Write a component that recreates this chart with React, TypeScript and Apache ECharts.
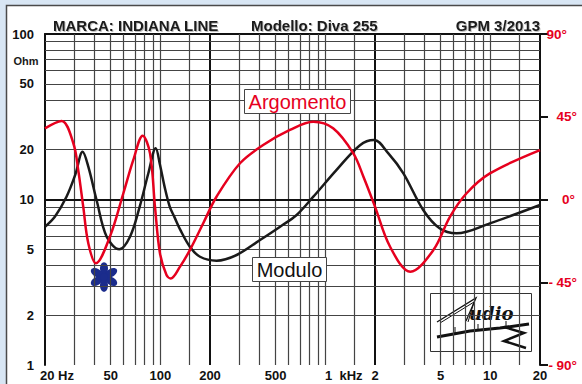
import React, { useEffect, useRef } from 'react';
import * as echarts from 'echarts';

const FONT = '"Liberation Sans", Arial, Helvetica, sans-serif';

// Modulo (impedance, Ohm)
const modFreq = [20, 23, 27, 30.5, 33.8, 36.6, 41.1, 47.3, 56.4, 65.5, 75, 84.6, 93.8, 99.5, 106, 114, 122, 131.7, 151, 174, 219, 290, 402, 532, 670, 846, 1170, 1622, 1972, 2410, 2972, 3920, 4924, 6240, 9940, 20000];
const modOhm = [6.85, 7.9, 10.4, 14.1, 19.4, 15.8, 9.9, 5.96, 5.0, 5.96, 9.05, 14.4, 20.4, 16.2, 12.0, 9.05, 7.8, 6.6, 5.19, 4.51, 4.27, 4.62, 5.69, 6.85, 8.06, 10.4, 15.1, 21.3, 22.9, 19.0, 14.4, 8.64, 6.7, 6.25, 7.18, 9.26];

// Argomento (phase, degrees)
const phaseFreq = [20, 25.2, 29.7, 31.8, 34.1, 36.6, 40.7, 49.5, 59.7, 68.6, 78.2, 86.6, 92.8, 99.5, 109, 115.6, 131.7, 151, 182, 219, 304, 420, 610, 846, 1115, 1478, 1702, 2000, 2468, 3274, 4516, 5690, 7180, 9940, 20000];
const phaseDeg = [38.7, 42.7, 30.6, 16, -3.9, -23.8, -34.7, -20.2, 3.4, 21.5, 34.7, 25.1, -3.9, -29.3, -41, -42.9, -36.5, -27.5, -12.9, 1.5, 19.7, 29.6, 37.8, 42.3, 38.7, 25.1, 12.4, -3.9, -25.7, -39.3, -27.5, -9.4, 3.4, 14.2, 26.9];

// Tick labels
const xTickValues = [20, 50, 100, 200, 500, 1000, 2000, 5000, 10000, 20000];
const yTickValues = [1, 2, 5, 10, 20, 50, 100];
const phaseLabels: Record<string, string> = { '90': '{a|90°}', '45': '{c|45°}', '0': '{b|0°}', '-45': '{d|-}{c|45°}', '-90': '{d|-}{c|90°}' };

// Grid lines
const xGridValues = [30, 40, 50, 60, 70, 80, 90, 100, 150, 200, 300, 400, 500, 600, 700, 800, 900, 1000, 1500, 2000, 3000, 4000, 5000, 6000, 7000, 8000, 9000, 10000, 15000];
const yGridValues = [2, 3, 4, 5, 6, 7, 8, 9, 10, 20, 30, 40, 50, 60, 70, 80, 90];
const xThick = [200, 2000];
const yThick = [10];

const RED = '#e6001e';
const BLACK = '#1a1a1a';

export default function App() {
  const ref = useRef<HTMLDivElement>(null);
  useEffect(() => {
    const chart = echarts.init(ref.current!, null, { renderer: 'svg' });
    const thin = { color: '#444', width: 1.2, type: 'solid' };
    const thick = { color: '#111', width: 2, type: 'solid' };
    const gridLines: any[] = [
      ...xGridValues.map((v) => ({ xAxis: v, lineStyle: xThick.includes(v) ? thick : thin })),
      ...yGridValues.map((v) => ({ yAxis: v, lineStyle: yThick.includes(v) ? thick : thin })),
    ];
    const petals = [0, 1, 2, 3, 4, 5].map((k) => ({
      type: 'ellipse',
      rotation: (k * Math.PI) / 3,
      shape: { cx: 0, cy: -8.5, rx: 4, ry: 6.3 },
      style: { fill: '#1b2c8c' },
    }));
    const redRich = (pad: number[]) => ({ padding: pad, color: RED, fontWeight: 'bold', fontSize: 13.5, fontFamily: FONT });
    const titleStyle = (text: string, align: string) => ({
      text,
      font: `bold 15px ${FONT}`,
      fill: '#1a1a1a',
      textAlign: align,
      textVerticalAlign: 'middle',
      align,
      verticalAlign: 'middle',
      textShadowColor: 'rgba(0,0,0,0.25)',
      textShadowOffsetX: 1,
      textShadowOffsetY: 1,
      textShadowBlur: 1,
    });
    const option: any = {
      animation: false,
      backgroundColor: '#d8e6f4',
      grid: { left: 45, right: 42, top: 34, bottom: 19 },
      xAxis: [
        {
          type: 'log',
          logBase: 10,
          min: 20,
          max: 20000,
          axisLine: { show: true, lineStyle: { color: '#111', width: 2 } },
          axisTick: { show: false },
          splitLine: { show: false },
          minorSplitLine: { show: false },
          axisLabel: {
            customValues: xTickValues,
            margin: 4,
            color: '#111',
            fontWeight: 'bold',
            fontSize: 13,
            fontFamily: FONT,
            formatter: (v: number) => {
              if (v === 20) return '{h|20 Hz}';
              if (v === 1000) return '{k|1  kHz}';
              return v >= 1000 ? String(v / 1000) : String(v);
            },
            rich: {
              h: { padding: [0, 0, 0, 24], color: '#111', fontWeight: 'bold', fontSize: 13, fontFamily: FONT },
              k: { padding: [0, 0, 0, 37], color: '#111', fontWeight: 'bold', fontSize: 13, fontFamily: FONT },
            },
          },
        },
        {
          type: 'log',
          logBase: 10,
          min: 20,
          max: 20000,
          position: 'top',
          axisLine: { show: true, lineStyle: { color: '#111', width: 2 } },
          axisTick: { show: false },
          axisLabel: { show: false },
          splitLine: { show: false },
        },
      ],
      yAxis: [
        {
          type: 'log',
          logBase: 10,
          min: 1,
          max: 100,
          axisLine: { show: true, lineStyle: { color: '#111', width: 2 } },
          axisTick: { show: false },
          splitLine: { show: false },
          axisLabel: {
            customValues: yTickValues,
            margin: 11,
            color: '#111',
            fontWeight: 'bold',
            fontSize: 13,
            fontFamily: FONT,
          },
        },
        {
          type: 'value',
          min: -90,
          max: 90,
          interval: 45,
          position: 'right',
          axisLine: { show: true, lineStyle: { color: '#111', width: 2 } },
          axisTick: { show: true, inside: false, length: 8, lineStyle: { color: '#111', width: 2 } },
          splitLine: { show: false },
          axisLabel: {
            margin: 37,
            align: 'right',
            color: RED,
            fontWeight: 'bold',
            fontSize: 13.5,
            fontFamily: FONT,
            formatter: (v: number) => phaseLabels[String(Math.round(v))] || String(v),
            rich: {
              a: redRich([0, 10, 0, 0]),
              b: redRich([0, 2, 0, 0]),
              c: redRich([0, 0, 0, 0]),
              d: redRich([0, 3.5, 0, 0]),
            },
          },
        },
      ],
      series: [
        {
          name: 'Modulo',
          type: 'line',
          xAxisIndex: 0,
          yAxisIndex: 0,
          data: modFreq.map((f, i) => [f, modOhm[i]]),
          smooth: 0.35,
          showSymbol: false,
          symbol: 'none',
          z: 3,
          lineStyle: { color: BLACK, width: 2.5 },
          markLine: {
            silent: true,
            z: 1,
            symbol: ['none', 'none'],
            label: { show: false },
            emphasis: { disabled: true },
            data: gridLines,
          },
        },
        {
          name: 'Argomento',
          type: 'line',
          xAxisIndex: 0,
          yAxisIndex: 1,
          data: phaseFreq.map((f, i) => [f, phaseDeg[i]]),
          smooth: 0.35,
          showSymbol: false,
          symbol: 'none',
          z: 4,
          lineStyle: { color: RED, width: 2.5 },
        },
      ],
      graphic: [
        {
          type: 'rect',
          z: -10,
          shape: { x: 6.5, y: 5.5, width: 600, height: 400 },
          style: { fill: '#ffffff', stroke: '#4a4a4a', lineWidth: 1.5 },
        },
        { type: 'text', x: 53, y: 25, z: 20, style: titleStyle('MARCA: INDIANA LINE', 'left') },
        { type: 'text', x: 251, y: 25, z: 20, style: titleStyle('Modello: Diva 255', 'left') },
        { type: 'text', x: 540, y: 25, z: 20, style: titleStyle('GPM 3/2013', 'right') },
        {
          type: 'text', x: 26, y: 61, z: 20,
          style: { text: 'Ohm', font: `bold 11px ${FONT}`, fill: '#1a1a1a', textAlign: 'center', textVerticalAlign: 'middle', align: 'center', verticalAlign: 'middle' },
        },
        {
          type: 'rect', z: 20,
          shape: { x: 244.5, y: 89.5, width: 106, height: 24 },
          style: { fill: '#ffffff', stroke: '#444', lineWidth: 1 },
        },
        {
          type: 'text', x: 297.5, y: 102, z: 21,
          style: { text: 'Argomento', font: `20px ${FONT}`, fill: RED, textAlign: 'center', textVerticalAlign: 'middle', align: 'center', verticalAlign: 'middle' },
        },
        {
          type: 'rect', z: 20,
          shape: { x: 252.5, y: 257.5, width: 74, height: 24 },
          style: { fill: '#ffffff', stroke: '#444', lineWidth: 1 },
        },
        {
          type: 'text', x: 289.5, y: 270, z: 21,
          style: { text: 'Modulo', font: `20px ${FONT}`, fill: '#111', textAlign: 'center', textVerticalAlign: 'middle', align: 'center', verticalAlign: 'middle' },
        },
        {
          type: 'group', x: 104, y: 277, z: 20,
          children: [
            ...petals,
            { type: 'circle', shape: { cx: 0, cy: 0, r: 4 }, style: { fill: '#1b2c8c' } },
          ],
        },
        {
          type: 'group', z: 20,
          children: [
            { type: 'rect', shape: { x: 430.5, y: 293.5, width: 101, height: 58 }, style: { fill: '#ffffff', stroke: '#333', lineWidth: 1 } },
            { type: 'polyline', shape: { points: [[437, 322], [476, 298], [466, 321]] }, style: { stroke: '#111', lineWidth: 1.3, fill: 'none' } },
            { type: 'polyline', shape: { points: [[440, 323], [474, 302], [468, 322]] }, style: { stroke: '#111', lineWidth: 1, fill: 'none' } },
            { type: 'text', x: 469, y: 313, style: { text: 'udio', font: `italic bold 18px "DejaVu Serif", serif`, fill: '#111', textAlign: 'left', textVerticalAlign: 'middle', align: 'left', verticalAlign: 'middle' } },
            { type: 'polyline', shape: { points: [[437, 337], [470, 331], [500, 328], [529, 324]] }, style: { stroke: '#111', lineWidth: 3, fill: 'none' } },
            { type: 'polyline', shape: { points: [[504, 327], [524, 333], [504, 341], [526, 348]] }, style: { stroke: '#111', lineWidth: 2.5, fill: 'none' } },
            { type: 'line', shape: { x1: 455, y1: 327, x2: 455, y2: 333 }, style: { stroke: '#111', lineWidth: 1 } },
            { type: 'line', shape: { x1: 478, y1: 324, x2: 478, y2: 330 }, style: { stroke: '#111', lineWidth: 1 } },
            { type: 'line', shape: { x1: 506, y1: 321, x2: 506, y2: 327 }, style: { stroke: '#111', lineWidth: 1 } },
          ],
        },
      ],
    };
    chart.setOption(option);
    return () => chart.dispose();
  }, []);
  return <div ref={ref} style={{ position: 'absolute', left: 0, top: 0, width: 582, height: 384 }} />;
}
